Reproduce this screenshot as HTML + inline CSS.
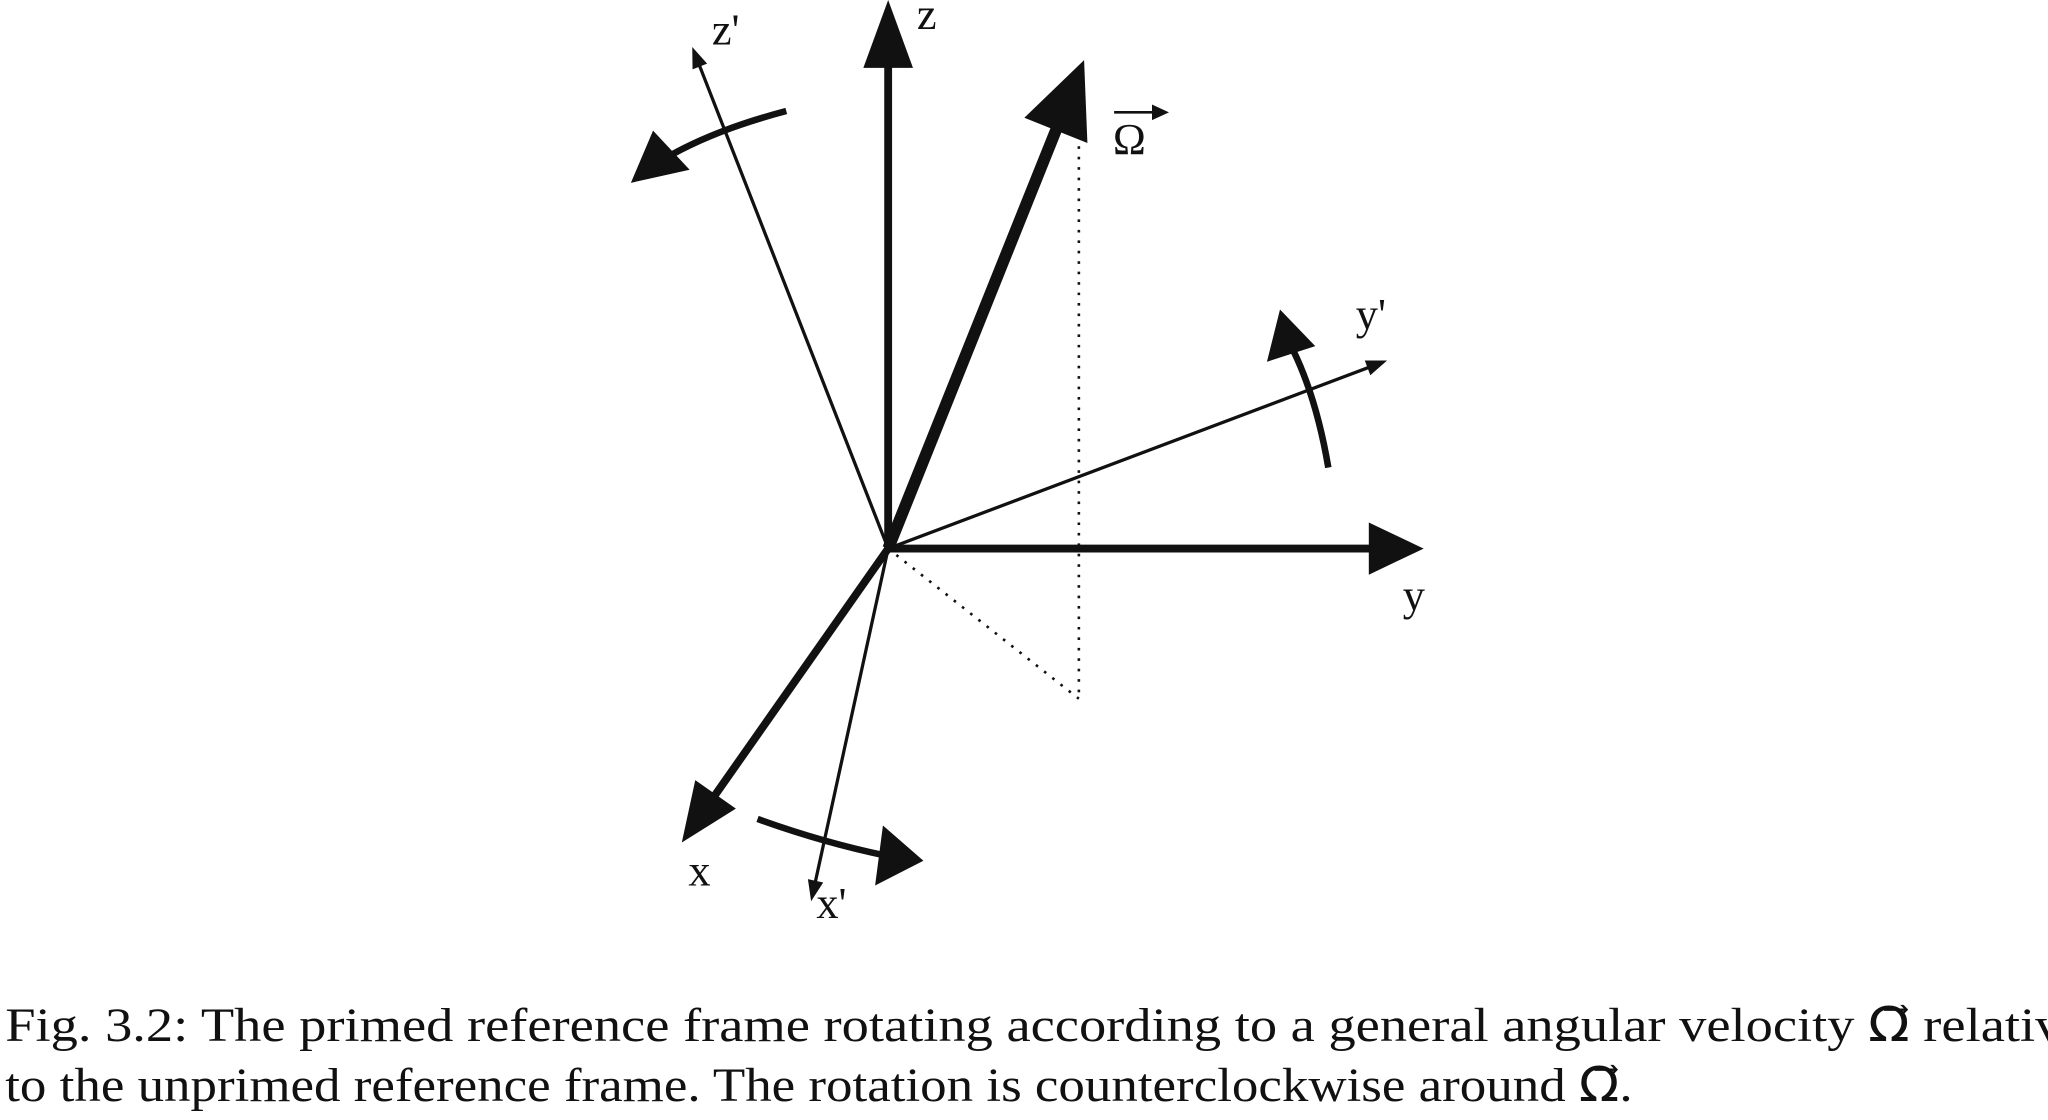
<!DOCTYPE html>
<html><head><meta charset="utf-8">
<style>
html,body{margin:0;padding:0;background:#fff;}
svg{display:block;}
text{font-family:"Liberation Serif","DejaVu Serif",serif;fill:#111;}
</style></head>
<body>
<svg id="fig" width="2048" height="1120" viewBox="0 0 1568 857.5" preserveAspectRatio="none" xmlns="http://www.w3.org/2000/svg">
  <rect width="1568" height="857.5" fill="#fff"/>
  <g id="axes"></g>
  <g id="arcs" fill="none" stroke="#111" stroke-width="5" stroke-linecap="butt">
    <path d="M602,85 Q545,100 508,122"/>
    <path d="M1017,358 Q1008,305 990,268"/>
    <path d="M580,627 Q630,645 678,655"/>
  </g>
  <g fill="#111">
    <polygon points="483,140 500,100 528,130"/>
    <polygon points="980,237 970,277 1007,265"/>
    <polygon points="707,659 670,678 676,632"/>
  </g>
  <g stroke="#111" stroke-width="2" stroke-dasharray="2,6" fill="none">
    <line x1="826" y1="112" x2="826" y2="535"/>
    <line x1="680" y1="420" x2="826" y2="535"/>
  </g>
  <g font-size="34">
    <text x="702" y="22">z</text>
    <text x="1074" y="467">y</text>
    <text x="527" y="678">x</text>
    <text x="545" y="34">z'</text>
    <text x="1038" y="252">y'</text>
    <text x="625" y="703">x'</text>
    <text x="852" y="118">Ω</text>
  </g>
  <g>
    <line x1="853" y1="86" x2="885" y2="86" stroke="#111" stroke-width="2"/>
    <polygon points="895,86 882,80 882,92" fill="#111"/>
  </g>
  <g font-size="36.5">
    <text x="4" y="797" textLength="1575" lengthAdjust="spacingAndGlyphs">Fig. 3.2: The primed reference frame rotating according to a general angular velocity Ω⃗ relativ</text>
    <text x="4" y="843" textLength="1246" lengthAdjust="spacingAndGlyphs">to the unprimed reference frame. The rotation is counterclockwise around Ω⃗.</text>
  </g>
</svg>
<script>
// Vector endpoints (diagram data): name, tip x, tip y, line width, head length, head half-width
const vectorNames = ['z-axis','y-axis','x-axis','omega-vector','z-prime-axis','y-prime-axis','x-prime-axis'];
const tipX = [680, 1090, 522, 830, 530, 1062, 621];
const tipY = [0, 420, 645, 46, 36, 276, 690];
const lineW = [6, 6, 6, 9, 2.5, 2.5, 2.5];
const headLen = [52, 42, 45, 58, 16, 16, 16];
const headHalf = [19, 20, 19, 26, 6, 6, 6];
const origin = [680, 420];

const g = document.getElementById('axes');
const NS = 'http://www.w3.org/2000/svg';
for (let i = 0; i < vectorNames.length; i++) {
  const dx = tipX[i] - origin[0], dy = tipY[i] - origin[1];
  const L = Math.hypot(dx, dy), ux = dx / L, uy = dy / L;
  const bx = tipX[i] - ux * headLen[i], by = tipY[i] - uy * headLen[i];
  const grp = document.createElementNS(NS, 'g');
  
  
  const ln = document.createElementNS(NS, 'line');
  ln.setAttribute('x1', origin[0]); ln.setAttribute('y1', origin[1]);
  ln.setAttribute('x2', bx + ux * 2); ln.setAttribute('y2', by + uy * 2);
  ln.setAttribute('stroke', '#111'); ln.setAttribute('stroke-width', lineW[i]);
  grp.appendChild(ln);
  const px = -uy, py = ux, h = headHalf[i];
  const poly = document.createElementNS(NS, 'polygon');
  poly.setAttribute('points', `${tipX[i]},${tipY[i]} ${bx + px*h},${by + py*h} ${bx - px*h},${by - py*h}`);
  poly.setAttribute('fill', '#111');
  grp.appendChild(poly);
  g.appendChild(grp);
}
</script>
</body></html>
